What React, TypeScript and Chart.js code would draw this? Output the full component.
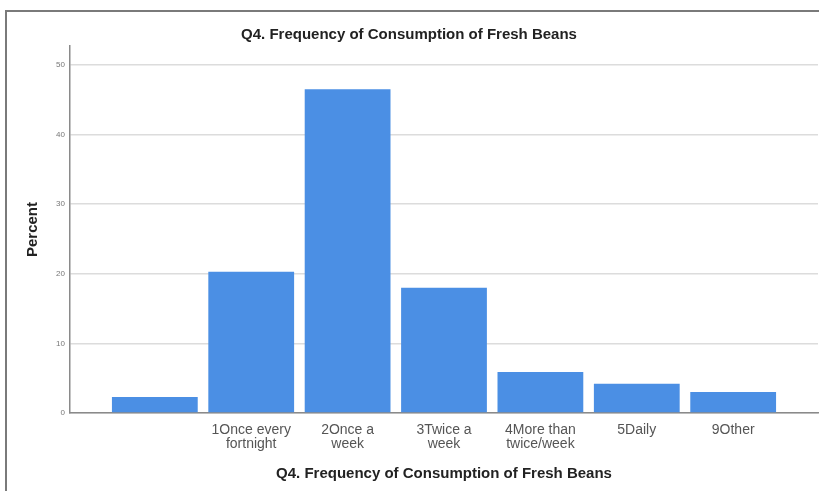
import React, { useEffect, useRef } from "react";
import { Chart, registerables } from "chart.js";

Chart.register(...registerables);

const chartTitle = "Q4. Frequency of Consumption of Fresh Beans";
const xAxisTitle = "Q4. Frequency of Consumption of Fresh Beans";
const yAxisTitle = "Percent";
const categories: (string | string[])[] = [
  "",
  ["1Once every", "fortnight"],
  ["2Once a", "week"],
  ["3Twice a", "week"],
  ["4More than", "twice/week"],
  "5Daily",
  "9Other",
];
const percentValues = [2.3, 20.3, 46.5, 18.0, 5.9, 4.2, 3.0];
const yTicks = [0, 10, 20, 30, 40, 50];

const framePlugin = {
  id: "frame",
  beforeDraw(chart: any) {
    const ctx = chart.ctx;
    ctx.save();
    ctx.fillStyle = "#ffffff";
    ctx.fillRect(0, 0, chart.width, chart.height);
    ctx.strokeStyle = "#7a7a7a";
    ctx.lineWidth = 2;
    ctx.beginPath();
    ctx.moveTo(6, chart.height);
    ctx.lineTo(6, 11);
    ctx.lineTo(chart.width, 11);
    ctx.stroke();
    ctx.restore();
  },
};

export default function App() {
  const ref = useRef<HTMLCanvasElement | null>(null);
  useEffect(() => {
    document.body.style.margin = "0";
    const canvas = ref.current!;
    const chart = new Chart(canvas, {
      type: "bar",
      data: {
        datasets: [
          {
            data: percentValues.map((v, i) => ({ x: i, y: v })),
            backgroundColor: "#4b8fe4",
            borderWidth: 0,
            barPercentage: 0.89,
            categoryPercentage: 1,
          },
        ],
      },
      options: {
        responsive: false,
        animation: false,
        layout: { padding: { left: 0, right: 1, top: 0, bottom: 0 } },
        plugins: {
          legend: { display: false },
          tooltip: { enabled: false },
          title: {
            display: true,
            text: chartTitle,
            color: "#222",
            font: { family: "Liberation Sans", size: 15, weight: "bold", lineHeight: 1.2 },
            padding: { top: 26, bottom: 2 },
          },
        },
        scales: {
          x: {
            type: "linear",
            min: -0.88,
            max: 6.88,
            offset: false,
            afterBuildTicks: (axis: any) => {
              axis.ticks = categories.map((_, i) => ({ value: i }));
            },
            afterFit: (axis: any) => {
              axis.height = 78;
            },
            grid: { display: false, drawTicks: false, offset: false },
            border: { display: true, color: "#8a8a8a", width: 1.5 },
            ticks: {
              autoSkip: false,
              maxRotation: 0,
              padding: 10,
              color: "#555",
              font: { family: "Liberation Sans", size: 14, lineHeight: 1.0 },
              callback: (v: any) => categories[Math.round(Number(v))] ?? "",
            },
            title: {
              display: true,
              text: xAxisTitle,
              color: "#222",
              font: { family: "Liberation Sans", size: 15, weight: "bold", lineHeight: 1.2 },
              padding: { top: 0, bottom: 8 },
            },
          },
          y: {
            type: "linear",
            min: 0,
            max: 52.7,
            afterBuildTicks: (axis: any) => {
              axis.ticks = yTicks.map((v) => ({ value: v }));
            },
            afterFit: (axis: any) => {
              axis.width = 70;
            },
            grid: { color: "#dcdcdc", lineWidth: 1.5, drawTicks: false },
            border: { display: true, color: "#8a8a8a", width: 1.5 },
            ticks: {
              padding: 5,
              color: "#777",
              font: { family: "Liberation Sans", size: 8 },
            },
            title: {
              display: true,
              text: yAxisTitle,
              color: "#222",
              font: { family: "Liberation Sans", size: 15, weight: "bold", lineHeight: 1.2 },
              padding: { top: 24, bottom: 0 },
            },
          },
        },
      } as any,
      plugins: [framePlugin],
    });
    return () => chart.destroy();
  }, []);
  return (
    <div style={{ width: 819, height: 491 }}>
      <canvas ref={ref} width={819} height={491} style={{ display: "block" }} />
    </div>
  );
}
